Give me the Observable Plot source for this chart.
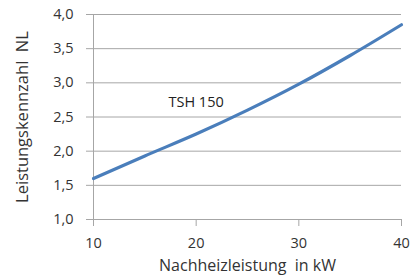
<!DOCTYPE html>
<html><head><meta charset="utf-8">
<script src="https://cdn.jsdelivr.net/npm/d3@7"></script>
<script src="https://cdn.jsdelivr.net/npm/@observablehq/plot@0.6"></script>
<style>body{margin:0;background:#fff}</style>
</head><body><div id="chart"></div>
<script>
const leistung = [10, 15, 20, 25, 30, 35, 40];
const nl = [1.6, 1.93, 2.25, 2.6, 2.98, 3.4, 3.85];
const yTicks = [1.0, 1.5, 2.0, 2.5, 3.0, 3.5, 4.0];
const xTicks = [10, 20, 30, 40];
const seriesLabel = "TSH 150";
const xLabel = "Nachheizleistung  in kW";
const yLabel = "Leistungskennzahl  NL";
const data = leistung.map((x, i) => ({x, y: nl[i]}));
const fmt = d => d.toFixed(1).replace(".", ",");
const chart = Plot.plot({
  width: 418, height: 280,
  marginLeft: 93, marginRight: 17, marginTop: 14, marginBottom: 61,
  style: {fontFamily: "'Open Sans', 'Noto Sans', sans-serif", background: "#fff"},
  x: {domain: [10, 40]},
  y: {domain: [1, 4]},
  marks: [
    Plot.gridY(yTicks, {stroke: "#a6a6a6", strokeOpacity: 1, strokeWidth: 1}),
    Plot.ruleX([10], {stroke: "#a6a6a6", strokeWidth: 1}),
    Plot.axisY(yTicks, {tickSize: 7, tickPadding: 13, tickFormat: fmt, stroke: "#a6a6a6", fill: "#333", fontSize: 14.5, label: null}),
    Plot.axisX(xTicks, {tickSize: 7, tickPadding: 11, stroke: "#a6a6a6", fill: "#333", fontSize: 14.5, label: null}),
    Plot.text([xLabel], {frameAnchor: "bottom", dy: 51, text: d => d, fontSize: 16, fill: "#333", textAnchor: "middle"}),
    Plot.text([yLabel], {frameAnchor: "left", dx: -71, rotate: -90, text: d => d, fontSize: 16.5, fill: "#333", textAnchor: "middle"}),
    Plot.line(data, {x: "x", y: "y", stroke: "#4a7ebb", strokeWidth: 3.2, curve: "monotone-x"}),
    Plot.text([seriesLabel], {x: 17.3, y: 2.72, text: d => d, textAnchor: "start", fontSize: 14.5, fill: "#222"})
  ]
});
document.getElementById("chart").append(chart);
</script>
</body></html>
